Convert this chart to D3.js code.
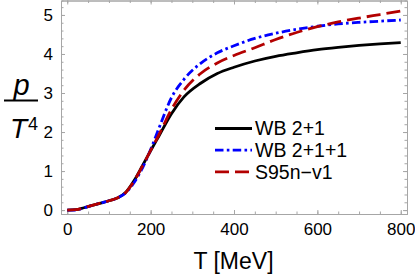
<!DOCTYPE html>
<html>
<head>
<meta charset="utf-8">
<script src="https://cdn.jsdelivr.net/npm/d3@7"></script>
<style>
  body { margin: 0; background: #fff; }
  text { font-family: "Liberation Sans", Arial, sans-serif; }
</style>
</head>
<body>
<div class="chart"></div>
<script>
// temperatures (MeV) and p/T^4
var temps = [0, 20, 40, 60, 80, 100, 120, 140, 160, 180, 200, 220, 250, 280, 320, 360, 400, 450, 500, 550, 600, 650, 700, 750, 800];
var wb21 = [0, 0.01, 0.06, 0.12, 0.18, 0.24, 0.31, 0.45, 0.75, 1.13, 1.52, 1.9, 2.47, 2.9, 3.25, 3.5, 3.66, 3.82, 3.94, 4.03, 4.11, 4.17, 4.22, 4.26, 4.29];
var wb211 = [0, 0.0, 0.06, 0.12, 0.18, 0.24, 0.31, 0.44, 0.7, 1.07, 1.55, 2.1, 2.88, 3.35, 3.76, 4.03, 4.21, 4.4, 4.53, 4.63, 4.71, 4.77, 4.81, 4.84, 4.87];
var s95 = [0, 0.01, 0.06, 0.12, 0.18, 0.24, 0.31, 0.45, 0.74, 1.12, 1.53, 1.93, 2.58, 3.07, 3.5, 3.77, 3.96, 4.16, 4.37, 4.55, 4.7, 4.82, 4.92, 5.01, 5.1];

var xTicks = [0, 200, 400, 600, 800];
var yTicks = [0, 1, 2, 3, 4, 5];
var seriesNames = ["WB 2+1", "WB 2+1+1", "S95n\u2212v1"];

var svgWidth = 415, svgHeight = 276;
// plot frame edges (note: "top" is reserved on window, so use other names)
var frameLeft = 61, frameRight = 407, frameTop = 0.5, frameBottom = 214;

var svg = d3.select(".chart").append("svg")
  .attr("width", svgWidth)
  .attr("height", svgHeight);

var x = d3.scaleLinear().domain([-15, 815]).range([frameLeft, frameRight]);
var y = d3.scaleLinear().domain([-0.1, 5.37]).range([frameBottom, frameTop]);

var frameColor = "#a6a6a6";

// minor ticks
var xMinor = d3.range(0, 801, 50);
var yMinor = d3.range(0, 5.21, 0.2);

function styleAxis(g) {
  g.select(".domain").attr("stroke", frameColor);
  g.selectAll(".tick line").attr("stroke", frameColor);
  g.selectAll(".tick text").attr("fill", "#000").attr("font-size", "17px")
    .attr("font-family", "Liberation Sans, Arial, sans-serif");
}

// bottom
svg.append("g").attr("transform", `translate(0,${frameBottom})`)
  .call(d3.axisBottom(x).tickValues(xMinor).tickSize(-2.5).tickFormat(""))
  .call(styleAxis);
svg.append("g").attr("transform", `translate(0,${frameBottom})`)
  .call(d3.axisBottom(x).tickValues(xTicks).tickSize(-4).tickPadding(9).tickSizeOuter(0))
  .call(styleAxis);
// top
svg.append("g").attr("transform", `translate(0,${frameTop})`)
  .call(d3.axisTop(x).tickValues(xMinor).tickSize(-2.5).tickFormat(""))
  .call(styleAxis);
svg.append("g").attr("transform", `translate(0,${frameTop})`)
  .call(d3.axisTop(x).tickValues(xTicks).tickSize(-4).tickFormat("").tickSizeOuter(0))
  .call(styleAxis);
// left
svg.append("g").attr("transform", `translate(${frameLeft},0)`)
  .call(d3.axisLeft(y).tickValues(yMinor).tickSize(-2.5).tickFormat(""))
  .call(styleAxis);
svg.append("g").attr("transform", `translate(${frameLeft},0)`)
  .call(d3.axisLeft(y).tickValues(yTicks).tickSize(-4).tickPadding(8)
    .tickFormat(d3.format("d")).tickSizeOuter(0))
  .call(styleAxis);
// right
svg.append("g").attr("transform", `translate(${frameRight},0)`)
  .call(d3.axisRight(y).tickValues(yMinor).tickSize(-2.5).tickFormat(""))
  .call(styleAxis);
svg.append("g").attr("transform", `translate(${frameRight},0)`)
  .call(d3.axisRight(y).tickValues(yTicks).tickSize(-4).tickFormat("").tickSizeOuter(0))
  .call(styleAxis);

// curves
var series = [
  { name: seriesNames[0], vals: wb21, color: "#000000", dash: null },
  { name: seriesNames[1], vals: wb211, color: "#0000ff", dash: "8.5,3.3,2.6,3.3" },
  { name: seriesNames[2], vals: s95, color: "#b30000", dash: "14,6" }
];

var line = d3.line()
  .x(function(d) { return x(d[0]); })
  .y(function(d) { return y(d[1]); })
  .curve(d3.curveMonotoneX);

var plot = svg.append("g");
series.forEach(function(s) {
  plot.append("path")
    .datum(temps.map(function(t, i) { return [t, s.vals[i]]; }))
    .attr("d", line)
    .attr("fill", "none")
    .attr("stroke", s.color)
    .attr("stroke-width", 2.8)
    .attr("stroke-dasharray", s.dash);
});

// legend
var legend = svg.append("g").attr("transform", "translate(215,128.5)");
series.forEach(function(s, i) {
  var row = legend.append("g").attr("transform", `translate(0,${i * 21.7})`);
  row.append("line")
    .attr("x1", 0).attr("x2", 37).attr("y1", 0).attr("y2", 0)
    .attr("stroke", s.color)
    .attr("stroke-width", 2.8)
    .attr("stroke-dasharray", s.dash);
  row.append("text")
    .attr("x", 40).attr("y", 6.8)
    .attr("font-size", "19.5px")
    .attr("fill", "#000")
    .text(s.name);
});

// axis titles
svg.append("text")
  .attr("x", 233.5).attr("y", 268.5)
  .attr("text-anchor", "middle")
  .attr("font-size", "23px")
  .attr("fill", "#000")
  .text("T [MeV]");

var ylab = svg.append("g");
ylab.append("text")
  .attr("x", 21.5).attr("y", 95)
  .attr("text-anchor", "middle")
  .attr("font-size", "29px")
  .attr("font-style", "italic")
  .text("p");
ylab.append("line")
  .attr("x1", 4).attr("x2", 38).attr("y1", 100.5).attr("y2", 100.5)
  .attr("stroke", "#000").attr("stroke-width", 1.8);
var tText = ylab.append("text")
  .attr("x", 10).attr("y", 138)
  .attr("font-size", "28px");
tText.append("tspan").attr("font-style", "italic").text("T");
tText.append("tspan").attr("font-size", "18px").attr("dy", -8).attr("dx", 1).text("4");
</script>
</body>
</html>
